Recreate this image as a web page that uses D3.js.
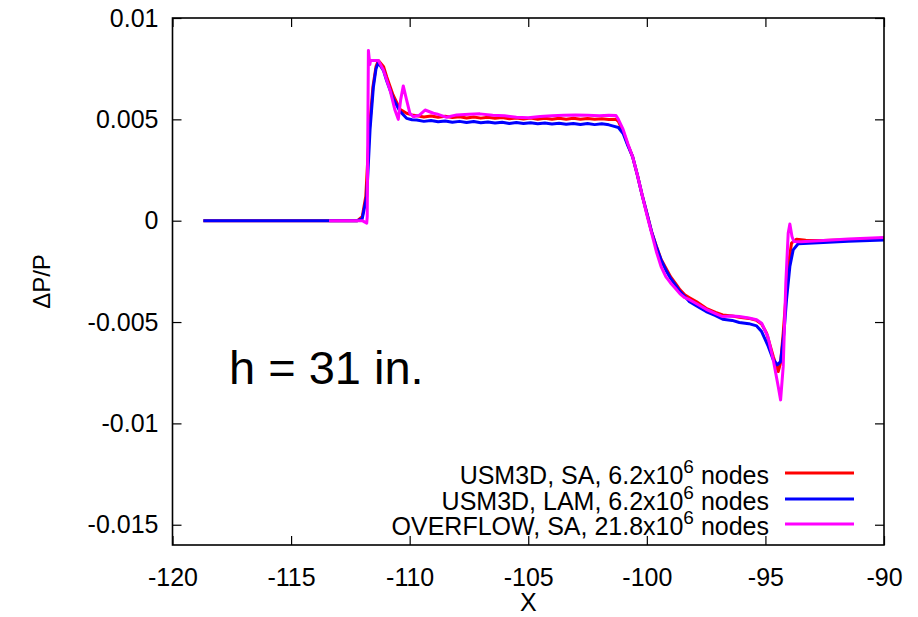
<!DOCTYPE html>
<html>
<head>
<meta charset="utf-8">
<script src="https://cdn.jsdelivr.net/npm/d3@7"></script>
<style>
  body { margin: 0; background: #fff; }
  svg { font-family: "Liberation Sans", Arial, Helvetica, sans-serif; }
  .tick line { stroke: #000; stroke-width: 1.2; }
  .tick text { font-size: 25px; fill: #000; }
</style>
</head>
<body>
<svg id="chart"></svg>
<script>
// series: USM3D SA (red)
const xRed = [-118.7, -112.2, -112.0, -111.85, -111.7, -111.55, -111.42, -111.32, -111.1, -110.97, -110.7, -110.41, -110.13, -109.9,
  -109.7, -109.4, -109.1, -108.8, -108.5, -108.2, -107.9, -107.6, -107.3, -107.0, -106.7, -106.4, -106.1, -105.8, -105.5, -105.2,
  -104.9, -104.6, -104.3, -104.0, -103.7, -103.4, -103.1, -102.8, -102.5, -102.2, -101.9, -101.6, -101.3, -101.2, -101.0, -100.8,
  -100.6, -100.4, -100.2, -100.0, -99.8, -99.6, -99.4, -99.2, -99.0, -98.8, -98.6, -98.4, -98.2, -97.9, -97.5, -97.1, -96.8, -96.4,
  -96.1, -95.7, -95.37, -95.16, -94.95, -94.67, -94.46, -94.36, -94.25, -94.04, -93.9, -93.69, -93.3, -92.56, -91.5, -90.0]
const yRed = [0, 0, 0.0002, 0.0012, 0.0045, 0.0066, 0.0076, 0.0079, 0.0076, 0.0071, 0.0062, 0.0055, 0.0053, 0.00522,
  0.00518, 0.00512, 0.00516, 0.0051, 0.00515, 0.00509, 0.00513, 0.00507, 0.00512, 0.00506, 0.0051, 0.00505, 0.00509, 0.00503, 0.00507, 0.00502,
  0.00506, 0.00501, 0.00505, 0.005, 0.00505, 0.00501, 0.00505, 0.005, 0.00504, 0.005, 0.00503, 0.00499, 0.005, 0.0049, 0.0044, 0.00375,
  0.00316, 0.00226, 0.00127, 0.00037, -0.00054, -0.00125, -0.0019, -0.00233, -0.00276, -0.00308, -0.00341, -0.00366, -0.0038, -0.004, -0.00432, -0.00452, -0.00465, -0.0047,
  -0.00476, -0.00482, -0.00492, -0.0051, -0.00555, -0.0067, -0.00744, -0.007, -0.00555, -0.00226, -0.00111, -0.00091, -0.00096, -0.00098, -0.00094, -0.00086]

// series: USM3D LAM (blue)
const xBlue = [-118.7, -112.2, -112.0, -111.81, -111.67, -111.53, -111.42, -111.32, -111.1, -110.97, -110.69, -110.41, -110.13, -109.9,
  -109.7, -109.4, -109.1, -108.8, -108.5, -108.2, -107.9, -107.6, -107.3, -107.0, -106.7, -106.4, -106.1, -105.8, -105.5, -105.2,
  -104.9, -104.6, -104.3, -104.0, -103.7, -103.4, -103.1, -102.8, -102.5, -102.2, -101.9, -101.6, -101.45, -101.2, -101.0, -100.8,
  -100.6, -100.4, -100.2, -100.0, -99.8, -99.6, -99.4, -99.2, -99.0, -98.8, -98.6, -98.4, -98.2, -97.9, -97.5, -97.1, -96.8, -96.4,
  -96.1, -95.7, -95.37, -95.16, -94.88, -94.67, -94.5, -94.36, -94.22, -94.11, -93.97, -93.83, -93.62, -92.56, -91.5, -90.0]
const yBlue = [0, 0, 0.0001, 0.0012, 0.0045, 0.0066, 0.0075, 0.0078, 0.0074, 0.0069, 0.006, 0.0054, 0.00505, 0.00498,
  0.00497, 0.0049, 0.00494, 0.00488, 0.00492, 0.00486, 0.0049, 0.00484, 0.00489, 0.00483, 0.00487, 0.00482, 0.00486, 0.0048, 0.00484, 0.00479,
  0.00483, 0.00478, 0.00482, 0.00477, 0.00481, 0.00476, 0.0048, 0.00475, 0.00479, 0.00474, 0.00478, 0.00473, 0.00468, 0.0046, 0.0043, 0.0037,
  0.00316, 0.00226, 0.00127, 0.00037, -0.00054, -0.00128, -0.00193, -0.00243, -0.00284, -0.00317, -0.0035, -0.00374, -0.004, -0.0042, -0.00448, -0.00468, -0.00486, -0.00492,
  -0.00502, -0.00508, -0.00519, -0.00547, -0.0062, -0.00686, -0.00711, -0.00695, -0.00555, -0.0039, -0.00226, -0.00144, -0.00114, -0.00108, -0.00102, -0.00095]

// series: OVERFLOW SA (magenta)
const xMag = [-113.4, -112.0, -111.81, -111.79, -111.74, -111.68, -111.65, -111.53, -111.32, -111.11, -110.83, -110.62, -110.48, -110.38,
  -110.27, -110.13, -109.99, -109.85, -109.6, -109.35, -109.0, -108.86, -108.44, -108.02, -107.5, -107.04, -106.5, -106.0, -105.5, -105.0,
  -104.5, -104.0, -103.5, -103.0, -102.5, -102.0, -101.6, -101.3, -101.2, -101.0, -100.8, -100.6, -100.4, -100.2, -100.0, -99.8,
  -99.6, -99.4, -99.2, -99.0, -98.8, -98.6, -98.4, -98.2, -97.9, -97.5, -97.1, -96.8, -96.4, -96.1, -95.7, -95.37, -95.16, -94.9,
  -94.67, -94.46, -94.36, -94.25, -94.14, -94.04, -93.97, -93.88, -93.8, -93.5, -92.56, -91.5, -90.0]
const yMag = [0, 0, -0.00012, 0.0002, 0.0084, 0.0077, 0.0079, 0.0079, 0.0079, 0.00744, 0.00645, 0.00546, 0.005, 0.00596,
  0.00665, 0.00596, 0.0053, 0.00513, 0.0052, 0.00546, 0.0053, 0.00527, 0.0051, 0.00522, 0.00525, 0.00527, 0.0052, 0.00518, 0.0051, 0.00508,
  0.00514, 0.00518, 0.0052, 0.00522, 0.0052, 0.00518, 0.0052, 0.00519, 0.005, 0.0045, 0.0038, 0.00316, 0.00226, 0.00127, 0.0003, -0.0006,
  -0.00152, -0.00226, -0.00276, -0.00307, -0.00333, -0.00361, -0.0038, -0.0039, -0.0041, -0.00437, -0.00458, -0.00473, -0.0047, -0.00473, -0.0048, -0.00489, -0.00506, -0.00571,
  -0.00686, -0.00818, -0.00884, -0.0072, -0.00308, -0.00062, -0.00016, -0.00078, -0.00103, -0.00104, -0.00098, -0.0009, -0.00083]

const seriesNames = ['USM3D, SA, 6.2x10|6| nodes', 'USM3D, LAM, 6.2x10|6| nodes', 'OVERFLOW, SA, 21.8x10|6| nodes']
const seriesColors = ['#ff0000', '#0000ff', '#ff00ff']
const xTicks = [-120, -115, -110, -105, -100, -95, -90]
const yTicks = [-0.015, -0.01, -0.005, 0, 0.005, 0.01]

const w = 918
const h = 617
const padL = 172.5, padR = 884, padT = 18, padB = 545

const svg = d3.select('#chart').attr('width', w).attr('height', h)

const xScale = d3.scaleLinear().domain([-120, -90]).range([padL, padR])
const yScale = d3.scaleLinear().domain([-0.016, 0.01]).range([padB, padT])

const fmt = d => String(+d.toFixed(3))

svg.append('g')
   .attr('transform', 'translate(0,' + padB + ')')
   .call(d3.axisBottom(xScale).tickValues(xTicks).tickSizeInner(-9).tickSizeOuter(0).tickPadding(23).tickFormat(fmt))
svg.append('g')
   .attr('transform', 'translate(0,' + padT + ')')
   .call(d3.axisTop(xScale).tickValues(xTicks).tickSizeInner(-9).tickSizeOuter(0).tickFormat(''))
svg.append('g')
   .attr('transform', 'translate(' + padL + ',0)')
   .call(d3.axisLeft(yScale).tickValues(yTicks).tickSizeInner(-9).tickSizeOuter(0).tickPadding(14).tickFormat(fmt))
svg.append('g')
   .attr('transform', 'translate(' + padR + ',0)')
   .call(d3.axisRight(yScale).tickValues(yTicks).tickSizeInner(-9).tickSizeOuter(0).tickFormat(''))
svg.selectAll('.domain').remove()
svg.selectAll('g').attr('font-family', null).attr('font-size', null)

// data lines
const series = [[xRed, yRed], [xBlue, yBlue], [xMag, yMag]]
const line = d3.line().x(d => xScale(d[0])).y(d => yScale(d[1]))
series.forEach(([xs, ys], i) => {
  svg.append('path')
     .datum(xs.map((x, j) => [x, ys[j]]))
     .attr('d', line)
     .attr('fill', 'none')
     .attr('stroke', seriesColors[i])
     .attr('stroke-width', 3)
     .attr('stroke-linejoin', 'round')
})

// frame
svg.append('rect')
   .attr('x', padL).attr('y', padT)
   .attr('width', padR - padL).attr('height', padB - padT)
   .attr('fill', 'none').attr('stroke', '#000').attr('stroke-width', 1.6)

// axis titles
svg.append('text')
   .attr('x', (padL + padR) / 2).attr('y', 611)
   .attr('text-anchor', 'middle').attr('font-size', 25)
   .text('X')
svg.append('text')
   .attr('transform', 'translate(50,' + (padT + padB) / 2 + ') rotate(-90)')
   .attr('text-anchor', 'middle').attr('font-size', 24)
   .text('ΔP/P')

svg.append('text')
   .attr('x', 229).attr('y', 384)
   .attr('font-size', 47)
   .text('h = 31 in.')

// legend
const legendY = [473, 499, 524]
seriesNames.forEach((name, i) => {
  const parts = name.split('|')
  const t = svg.append('text')
     .attr('x', 769).attr('y', legendY[i] + 11)
     .attr('text-anchor', 'end').attr('font-size', 25)
  t.append('tspan').text(parts[0])
  t.append('tspan').attr('dy', -11).attr('font-size', 19).text(parts[1])
  t.append('tspan').attr('dy', 11).text(parts[2])
  svg.append('line')
     .attr('x1', 785).attr('x2', 854)
     .attr('y1', legendY[i]).attr('y2', legendY[i])
     .attr('stroke', seriesColors[i]).attr('stroke-width', 2.8)
})
</script>
</body>
</html>
